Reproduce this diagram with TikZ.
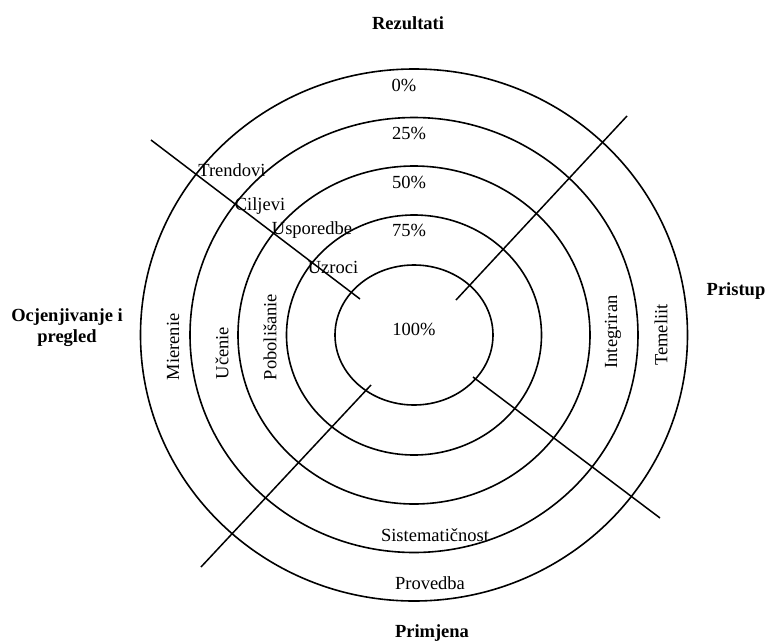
\documentclass[tikz,border=0pt]{standalone}
\usepackage{fontspec}
\setmainfont{Liberation Serif}
\usepackage{tikz}
\usetikzlibrary{calc}

\tikzset{
  ring/.style={line width=1.6pt},
  spoke/.style={line width=1.5pt},
  lbl/.style={inner sep=0pt, font=\fontsize{18.5}{21}\selectfont},
  head/.style={inner sep=0pt, align=center, font=\fontsize{18.5}{21}\selectfont\bfseries},
}

\begin{document}
\begin{tikzpicture}[x=1pt, y=1pt]
        \useasboundingbox (-414,-306) rectangle (351,335);
        \coordinate (c) at (0,0);
        % rings
        \foreach \rx/\ry in {79/70, 127.5/120, 176/169, 224/217.5, 273.5/266}
            \draw[ring] (c) ellipse [x radius=\rx, y radius=\ry];
        % spokes
        \coordinate (ul1) at (-263,195);  \coordinate (ul2) at (-54,36);
        \coordinate (ur1) at (213,219);   \coordinate (ur2) at (42,35);
        \coordinate (lr1) at (59,-42);    \coordinate (lr2) at (246,-183);
        \coordinate (ll1) at (-43,-50);   \coordinate (ll2) at (-213,-232);
        \draw[spoke] (ul1)--(ul2);
        \draw[spoke] (ur1)--(ur2);
        \draw[spoke] (lr1)--(lr2);
        \draw[spoke] (ll1)--(ll2);
        % headings
        \node[head] (rez) at (-6,312) {Rezultati};
        \node[head] (pri) at (322,44) {Pristup};
        \node[head] (prm) at (18,-298) {Primjena};
        \node[head] (ocj) at (-347,7) {Ocjenjivanje i\\pregled};
        % percentages
        \node[lbl] (p0) at (-10,250) {0\%};
        \node[lbl] (p25) at (-5,202) {25\%};
        \node[lbl] (p50) at (-5,153) {50\%};
        \node[lbl] (p75) at (-5,105) {75\%};
        \node[lbl] (p100) at (0,6) {100\%};
        % upper left
        \node[lbl] (tre) at (-182,165) {Trendovi};
        \node[lbl] (cil) at (-154,129) {Ciljevi};
        \node[lbl] (usp) at (-102,105) {Usporedbe};
        \node[lbl] (uzr) at (-81,68) {Uzroci};
        % left
        \node[lbl, rotate=90] (mje) at (-241,-12) {Mierenie};
        \node[lbl, rotate=90] (uce) at (-192,-18) {Učenie};
        \node[lbl, rotate=90] (pob) at (-144,-2) {Pobolišanie};
        % right
        \node[lbl, rotate=90] (int) at (199,3) {Integriran};
        \node[lbl, rotate=90] (tem) at (247,0) {Temeliit};
        % bottom
        \node[lbl] (sis) at (21,-200) {Sistematičnost};
        \node[lbl] (pro) at (16,-248) {Provedba};
    \end{tikzpicture}
\end{document}
